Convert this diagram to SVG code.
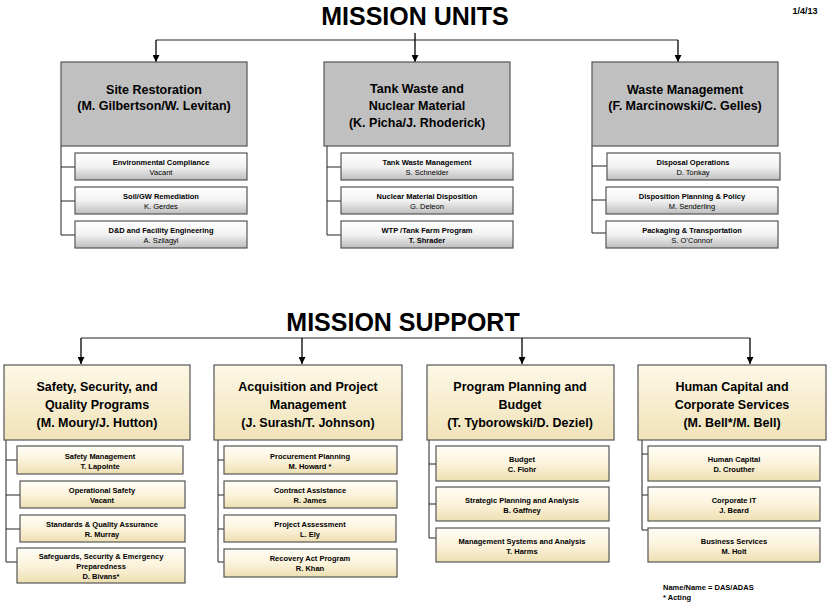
<svg xmlns="http://www.w3.org/2000/svg" width="830" height="604" viewBox="0 0 830 604">
<defs>
<linearGradient id="gs" x1="0" y1="0" x2="0" y2="1"><stop offset="0" stop-color="#ffffff"/><stop offset="0.5" stop-color="#f2f2f2"/><stop offset="1" stop-color="#bdbdbd"/></linearGradient>
<linearGradient id="cb" x1="0" y1="0" x2="0" y2="1"><stop offset="0" stop-color="#fdf8e6"/><stop offset="1" stop-color="#f1e3b9"/></linearGradient>
<linearGradient id="cs" x1="0" y1="0" x2="0" y2="1"><stop offset="0" stop-color="#fffdf5"/><stop offset="0.5" stop-color="#fbf3dc"/><stop offset="1" stop-color="#eedfb2"/></linearGradient>
<marker id="ah" viewBox="0 0 10 10" refX="10" refY="5" markerWidth="7" markerHeight="7" markerUnits="userSpaceOnUse" orient="auto"><path d="M0,0L10,5L0,10z" fill="#000"/></marker>
</defs>
<style>
text{font-family:"Liberation Sans",Arial,sans-serif;text-anchor:middle;fill:#000}
.title{font-size:25px;font-weight:bold}
.h{font-size:12.5px;font-weight:bold}
.s{font-size:7.5px;font-weight:bold}
.n{font-size:7.5px}
.gb{fill:#c0c0c0;stroke:#555;stroke-width:1.2}
.gsb{fill:url(#gs);stroke:#555;stroke-width:1.2}
.cbx{fill:url(#cb);stroke:#555;stroke-width:1.2}
.csb{fill:url(#cs);stroke:#555;stroke-width:1.2}
.ln{fill:none;stroke:#222;stroke-width:1}
.ar{fill:none;stroke:#000;stroke-width:1.3;marker-end:url(#ah)}
</style>
<text class="title" x="415" y="25">MISSION UNITS</text>
<text x="805" y="14" style="font-size:9px;font-weight:bold">1/4/13</text>
<text class="title" x="403" y="331">MISSION SUPPORT</text>
<g id="connectors">
<path class="ln" d="M156,40H678"/>
<path class="ar" d="M156,40V62"/><path class="ar" d="M415,33V62"/><path class="ar" d="M678,40V62"/>
<path class="ln" d="M61,146V235M61,167H75M61,201H75M61,235H75"/>
<path class="ln" d="M327,146V235M327,167H341M327,201H341M327,235H341"/>
<path class="ln" d="M592,146V233M592,166H607M592,200H606M592,233H606"/>
<path class="ln" d="M81,338H750"/>
<path class="ar" d="M81,338V364"/><path class="ar" d="M302,338V364"/><path class="ar" d="M522,338V364"/><path class="ar" d="M750,338V364"/>
<path class="ln" d="M6,440V562M6,460H17M6,495H20M6,529H20M6,562H17"/>
<path class="ln" d="M218,440V562M218,460H224M218,495H224M218,529H224M218,562H224"/>
<path class="ln" d="M429,440V538M429,464H436M429,504H436M429,538H436"/>
<path class="ln" d="M642,440V530M642,454H648M642,495H648M642,530H648"/>
</g>
<g id="site"><rect class="gb" x="61" y="62" width="186" height="84"/><text class="h" x="154" y="94">Site Restoration</text><text class="h" x="154" y="110">(M. Gilbertson/W. Levitan)</text></g>
<g id="site1"><rect class="gsb" x="75" y="153" width="172" height="27"/><text class="s" x="161" y="165">Environmental Compliance</text><text class="n" x="161" y="175">Vacant</text></g>
<g id="site2"><rect class="gsb" x="75" y="187" width="172" height="27"/><text class="s" x="161" y="199">Soil/GW Remediation</text><text class="n" x="161" y="209">K. Gerdes</text></g>
<g id="site3"><rect class="gsb" x="75" y="221" width="172" height="27"/><text class="s" x="161" y="233">D&amp;D and Facility Engineering</text><text class="n" x="161" y="243">A. Szilagyi</text></g>
<g id="tank"><rect class="gb" x="324" y="62" width="186" height="84"/><text class="h" x="417" y="93">Tank Waste and</text><text class="h" x="417" y="110">Nuclear Material</text><text class="h" x="417" y="127">(K. Picha/J. Rhoderick)</text></g>
<g id="tank1"><rect class="gsb" x="341" y="153" width="172" height="27"/><text class="s" x="427" y="165">Tank Waste Management</text><text class="n" x="427" y="175">S. Schneider</text></g>
<g id="tank2"><rect class="gsb" x="341" y="187" width="172" height="27"/><text class="s" x="427" y="199">Nuclear Material Disposition</text><text class="n" x="427" y="209">G. Deleon</text></g>
<g id="tank3"><rect class="gsb" x="341" y="221" width="172" height="27"/><text class="s" x="427" y="233">WTP /Tank Farm Program</text><text class="s" x="427" y="243">T. Shrader</text></g>
<g id="waste"><rect class="gb" x="592" y="62" width="186" height="84"/><text class="h" x="685" y="94">Waste Management</text><text class="h" x="685" y="110">(F. Marcinowski/C. Gelles)</text></g>
<g id="waste1"><rect class="gsb" x="607" y="153" width="173" height="27"/><text class="s" x="693" y="165">Disposal Operations</text><text class="n" x="693" y="175">D. Tonkay</text></g>
<g id="waste2"><rect class="gsb" x="606" y="187" width="172" height="27"/><text class="s" x="692" y="199">Disposition Planning &amp; Policy</text><text class="n" x="692" y="209">M. Senderling</text></g>
<g id="waste3"><rect class="gsb" x="606" y="221" width="172" height="27"/><text class="s" x="692" y="233">Packaging &amp; Transportation</text><text class="n" x="692" y="243">S. O’Connor</text></g>
<g id="safety"><rect class="cbx" x="4" y="365" width="186" height="75"/><text class="h" x="97" y="391">Safety, Security, and</text><text class="h" x="97" y="409">Quality Programs</text><text class="h" x="97" y="427">(M. Moury/J. Hutton)</text></g>
<g id="safety1"><rect class="csb" x="17" y="446" width="166" height="28"/><text class="s" x="100" y="459">Safety Management</text><text class="s" x="100" y="469">T. Lapointe</text></g>
<g id="safety2"><rect class="csb" x="20" y="481" width="165" height="27"/><text class="s" x="102" y="493">Operational Safety</text><text class="s" x="102" y="503">Vacant</text></g>
<g id="safety3"><rect class="csb" x="20" y="515" width="165" height="27"/><text class="s" x="102" y="527">Standards &amp; Quality Assurance</text><text class="s" x="102" y="537">R. Murray</text></g>
<g id="safety4"><rect class="csb" x="17" y="548" width="168" height="35"/><text class="s" x="101" y="559">Safeguards, Security &amp;  Emergency</text><text class="s" x="101" y="569">Preparedness</text><text class="s" x="101" y="579">D. Bivans*</text></g>
<g id="acq"><rect class="cbx" x="214" y="365" width="188" height="75"/><text class="h" x="308" y="391">Acquisition and Project</text><text class="h" x="308" y="409">Management</text><text class="h" x="308" y="427">(J. Surash/T. Johnson)</text></g>
<g id="acq1"><rect class="csb" x="224" y="446" width="173" height="28"/><text class="s" x="310" y="459">Procurement Planning</text><text class="s" x="310" y="469">M. Howard *</text></g>
<g id="acq2"><rect class="csb" x="224" y="481" width="173" height="27"/><text class="s" x="310" y="493">Contract Assistance</text><text class="s" x="310" y="503">R. James</text></g>
<g id="acq3"><rect class="csb" x="224" y="515" width="172" height="27"/><text class="s" x="310" y="527">Project Assessment</text><text class="s" x="310" y="537">L. Ely</text></g>
<g id="acq4"><rect class="csb" x="224" y="549" width="173" height="28"/><text class="s" x="310" y="561">Recovery Act Program</text><text class="s" x="310" y="571">R. Khan</text></g>
<g id="ppb"><rect class="cbx" x="427" y="365" width="187" height="75"/><text class="h" x="520" y="391">Program Planning and</text><text class="h" x="520" y="409">Budget</text><text class="h" x="520" y="427">(T. Tyborowski/D. Deziel)</text></g>
<g id="ppb1"><rect class="csb" x="436" y="446" width="173" height="35"/><text class="s" x="522" y="462">Budget</text><text class="s" x="522" y="472">C. Flohr</text></g>
<g id="ppb2"><rect class="csb" x="436" y="487" width="173" height="34"/><text class="s" x="522" y="503">Strategic Planning and Analysis</text><text class="s" x="522" y="513">B. Gaffney</text></g>
<g id="ppb3"><rect class="csb" x="436" y="528" width="173" height="34"/><text class="s" x="522" y="544">Management Systems  and Analysis</text><text class="s" x="522" y="554">T. Harms</text></g>
<g id="hc"><rect class="cbx" x="638" y="365" width="188" height="75"/><text class="h" x="732" y="391">Human Capital and</text><text class="h" x="732" y="409">Corporate Services</text><text class="h" x="732" y="427">(M. Bell*/M. Bell)</text></g>
<g id="hc1"><rect class="csb" x="648" y="446" width="172" height="35"/><text class="s" x="734" y="462">Human Capital</text><text class="s" x="734" y="472">D. Crouther</text></g>
<g id="hc2"><rect class="csb" x="648" y="487" width="172" height="34"/><text class="s" x="734" y="503">Corporate IT</text><text class="s" x="734" y="513">J. Beard</text></g>
<g id="hc3"><rect class="csb" x="648" y="528" width="172" height="34"/><text class="s" x="734" y="544">Business Services</text><text class="s" x="734" y="554">M. Holt</text></g>
<text class="s" x="663" y="590" style="text-anchor:start">Name/Name = DAS/ADAS</text>
<text class="s" x="663" y="600" style="text-anchor:start">* Acting</text>
</svg>
